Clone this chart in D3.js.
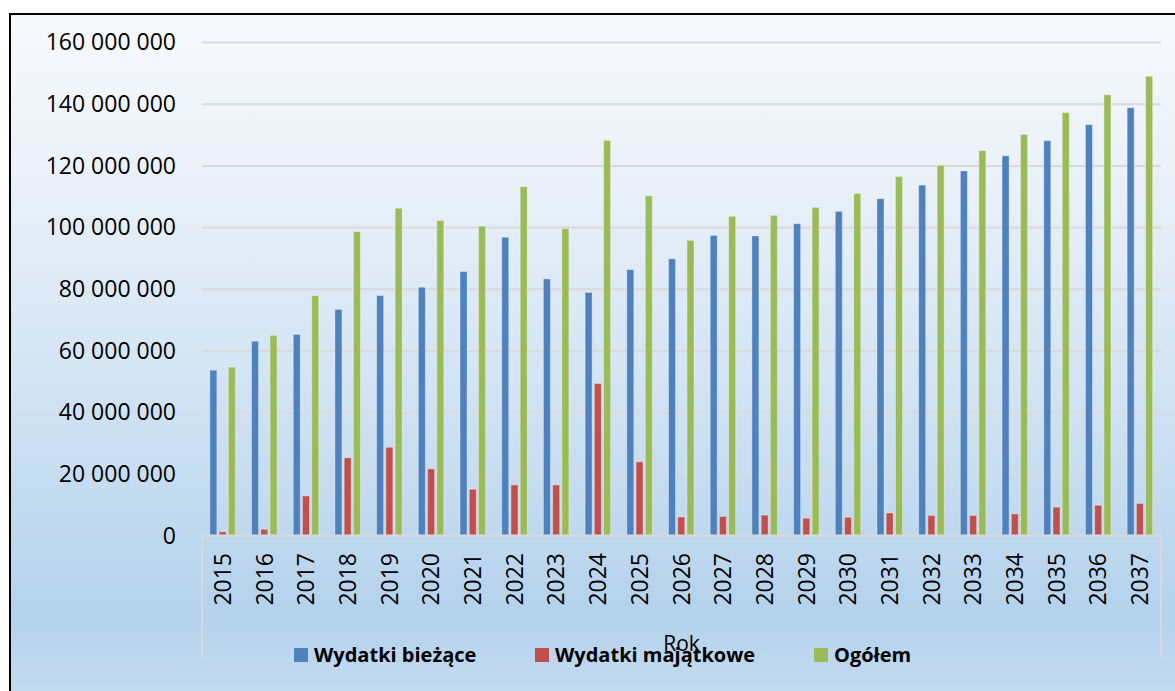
<!DOCTYPE html>
<html>
<head>
<meta charset="utf-8">
<script src="https://cdn.jsdelivr.net/npm/d3@7"></script>
<style>
    html, body { margin: 0; padding: 0; background: #fff; }
    svg { display: block; }
    .tick text { fill: #000; }
</style>
</head>
<body>
<div id="chart"></div>
<script>
(function (d3) {
    'use strict';

var years = ['2015', '2016', '2017', '2018', '2019', '2020', '2021', '2022', '2023', '2024', '2025',
    '2026', '2027', '2028', '2029', '2030', '2031', '2032', '2033', '2034', '2035', '2036', '2037'];

var wydatkiBiezace = [53.6, 63.0, 65.2, 73.3, 77.8, 80.5, 85.6, 96.7, 83.2, 78.8, 86.2,
    89.7, 97.3, 97.1, 101.1, 105.1, 109.2, 113.6, 118.2, 123.1, 128.0, 133.2, 138.7];
var wydatkiMajatkowe = [1.2, 2.0, 12.8, 25.2, 28.6, 21.6, 15.0, 16.4, 16.4, 49.3, 23.9,
    6.0, 6.2, 6.6, 5.6, 5.9, 7.3, 6.5, 6.5, 7.0, 9.2, 9.8, 10.4];
var ogolem = [54.6, 64.9, 77.8, 98.5, 106.1, 102.1, 100.3, 113.1, 99.5, 128.1, 110.1,
    95.7, 103.5, 103.8, 106.4, 110.9, 116.4, 120.0, 124.8, 130.0, 137.1, 142.9, 148.9];

var seriesNames = ['Wydatki bieżące', 'Wydatki majątkowe', 'Ogółem'];
var seriesColors = ['#4f81bd', '#c0504d', '#9bbb59'];
var yTicks = [0, 20e6, 40e6, 60e6, 80e6, 100e6, 120e6, 140e6, 160e6];
var axisTitle = 'Rok';

var W = 1175, H = 691;
var plot = {left: 202, right: 1161, top: 42, bottom: 535.5};
var FONT = '"Open Sans", "Noto Sans", sans-serif';

var svg = d3.select('#chart').append('svg')
    .attr('width', W)
    .attr('height', H);

/* Chart area background - light gradient like the office theme */
var grad = svg.append('defs').append('linearGradient')
    .attr('id', 'bg')
    .attr('x1', 0).attr('y1', 0).attr('x2', 0).attr('y2', 1);
[[0.02, '#f6f9fc'], [0.22, '#ebf1f9'], [0.5, '#d5e5f4'], [0.86, '#b4d2ec'], [1, '#c8ddf1']]
    .forEach(function(s) {
        grad.append('stop').attr('offset', s[0]).attr('stop-color', s[1]);
    });

svg.append('rect')
    .attr('x', 10).attr('y', 14)
    .attr('width', W + 10).attr('height', H + 10)
    .attr('fill', 'url(#bg)')
    .attr('stroke', '#000')
    .attr('stroke-width', 2);

var x = d3.scaleBand()
    .domain(years)
    .range([plot.left, plot.right]);

var bw = x.bandwidth();
var x1 = d3.scaleBand()
    .domain(d3.range(seriesNames.length))
    .range([bw / 2 - 13, bw / 2 + 12.5])
    .paddingInner(0.24);

var y = d3.scaleLinear()
    .domain([0, 160e6])
    .range([plot.bottom, plot.top]);

function fmt(d) {
    // polish thousands separator is a space
    return d3.format(',')(d).replace(/,/g, ' ');
}

/* Y axis with gridlines */
var yAxis = svg.append('g')
    .attr('transform', 'translate(' + plot.left + ',0)')
    .call(d3.axisLeft(y)
        .tickValues(yTicks)
        .tickSize(-(plot.right - plot.left))
        .tickPadding(26)
        .tickFormat(fmt));
yAxis.select('.domain').remove();
yAxis.selectAll('.tick line')
    .attr('stroke', '#d9d9d9')
    .attr('stroke-width', 2)
    .filter(function(d) { return d === 0; }).remove();
yAxis.selectAll('.tick text')
    .attr('font-family', FONT)
    .attr('font-size', 23)
    .attr('dy', '0.34em');

/* Bars */
var data = [wydatkiBiezace, wydatkiMajatkowe, ogolem];
var groups = svg.append('g').selectAll('g')
    .data(data)
    .join('g')
    .attr('fill', function(d, i) { return seriesColors[i]; });

groups.each(function(values, si) {
    d3.select(this).selectAll('rect')
        .data(values)
        .join('rect')
        .attr('x', function(v, i) { return x(years[i]) + x1(si); })
        .attr('width', x1.bandwidth())
        .attr('y', function(v) { return y(v * 1e6); })
        .attr('height', function(v) { return y(0) - y(v * 1e6); })
        .attr('stroke', 'rgba(255,255,255,0.35)')
        .attr('stroke-width', 1);
});

/* Category axis box (multi level: years + "Rok") */
var boxBottom = 658;
svg.append('path')
    .attr('d', 'M' + plot.left + ',' + boxBottom + 'V' + plot.bottom + 'H' + plot.right + 'V' + boxBottom)
    .attr('fill', 'none')
    .attr('stroke', '#d9d9d9')
    .attr('stroke-width', 2);

svg.append('g').selectAll('text')
    .data(years)
    .join('text')
    .attr('transform', function(d) {
        return 'translate(' + (x(d) + bw / 2 + 8) + ',553) rotate(-90)';
    })
    .attr('text-anchor', 'end')
    .attr('font-family', FONT)
    .attr('font-size', 23)
    .attr('fill', '#000')
    .text(function(d) { return d; });

svg.append('text')
    .attr('x', (plot.left + plot.right) / 2)
    .attr('y', 651)
    .attr('text-anchor', 'middle')
    .attr('font-family', FONT)
    .attr('font-size', 21)
    .attr('fill', '#000')
    .text(axisTitle);

/* Legend */
var legendX = [294, 535, 814];
var legend = svg.append('g').selectAll('g')
    .data(seriesNames)
    .join('g')
    .attr('transform', function(d, i) { return 'translate(' + legendX[i] + ',648)'; });

legend.append('rect')
    .attr('width', 14)
    .attr('height', 14)
    .attr('fill', function(d, i) { return seriesColors[i]; });

legend.append('text')
    .attr('x', 20)
    .attr('y', 14)
    .attr('font-family', FONT)
    .attr('font-size', 20)
    .attr('font-weight', 'bold')
    .attr('fill', '#000')
    .text(function(d) { return d; });

})(window.d3);
</script>
</body>
</html>
